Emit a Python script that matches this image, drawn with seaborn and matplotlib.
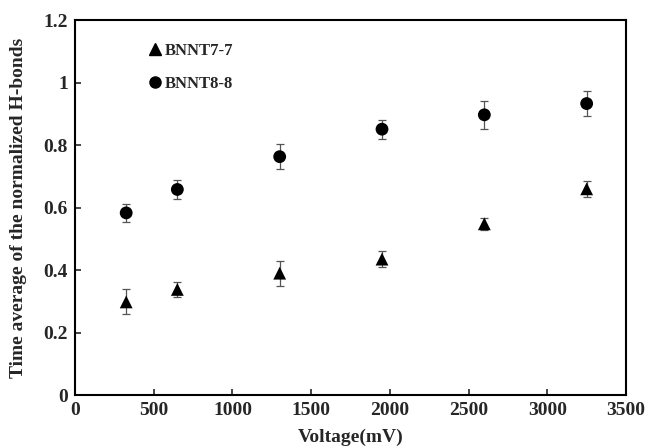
import matplotlib
matplotlib.use("Agg")
import matplotlib.pyplot as plt
import seaborn as sns
import pandas as pd
import numpy as np
from matplotlib.lines import Line2D

voltage = [325, 650, 1300, 1950, 2600, 3250]
bnnt77 = [0.298, 0.338, 0.390, 0.435, 0.548, 0.660]
bnnt77_err = [0.040, 0.025, 0.040, 0.025, 0.020, 0.025]
bnnt88 = [0.583, 0.658, 0.763, 0.851, 0.897, 0.933]
bnnt88_err = [0.030, 0.030, 0.040, 0.030, 0.045, 0.040]

sns.set_style("white")
plt.rcParams['font.family'] = ['Liberation Serif', 'DejaVu Serif']
plt.rcParams['font.weight'] = 'bold'

df = pd.DataFrame({
    "Voltage": voltage * 2,
    "value": bnnt77 + bnnt88,
    "err": bnnt77_err + bnnt88_err,
    "series": ["BNNT7-7"] * len(voltage) + ["BNNT8-8"] * len(voltage),
})

fig = plt.figure(figsize=(6.49, 4.48), dpi=100)
ax = fig.add_axes([0.1156, 0.1183, 0.849, 0.8367])

for name, g in df.groupby("series"):
    ax.errorbar(g["Voltage"], g["value"], yerr=g["err"], fmt="none",
                ecolor="#555555", elinewidth=0.9, capsize=3, capthick=0.9, zorder=2)

sns.scatterplot(data=df, x="Voltage", y="value", style="series",
                markers={"BNNT7-7": "^", "BNNT8-8": "o"}, color="black",
                s=85, edgecolor="black", linewidth=0, ax=ax, zorder=3, legend=False)

ax.set_xlim(0, 3500)
ax.set_ylim(0, 1.2)
ax.set_xticks([0, 500, 1000, 1500, 2000, 2500, 3000, 3500])
ax.set_yticks([0, 0.2, 0.4, 0.6, 0.8, 1.0, 1.2])
ax.set_yticklabels(["0", "0.2", "0.4", "0.6", "0.8", "1", "1.2"])
ax.tick_params(axis="both", direction="in", length=4, width=1.2, labelsize=14,
               bottom=True, left=True, top=False, right=False, pad=5)
for lab in ax.get_xticklabels() + ax.get_yticklabels():
    lab.set_fontweight("bold")
for sp in ax.spines.values():
    sp.set_linewidth(1.5)
    sp.set_color("black")

ax.set_xlabel("Voltage(mV)", fontsize=14, fontweight="bold", labelpad=7)
ax.set_ylabel("Time average of the normalized H-bonds", fontsize=14,
              fontweight="bold", labelpad=12)

handles = [Line2D([], [], marker="^", color="black", linestyle="none", markersize=8),
           Line2D([], [], marker="o", color="black", linestyle="none", markersize=8)]
ax.legend(handles, ["BNNT7-7", "BNNT8-8"], loc="upper left", bbox_to_anchor=(0.1, 0.98),
          frameon=False, handletextpad=0.0, labelspacing=1.05, handlelength=1.2,
          prop={"size": 12, "weight": "bold", "family": "Liberation Serif"})

fig.savefig("out.png", dpi=100)
